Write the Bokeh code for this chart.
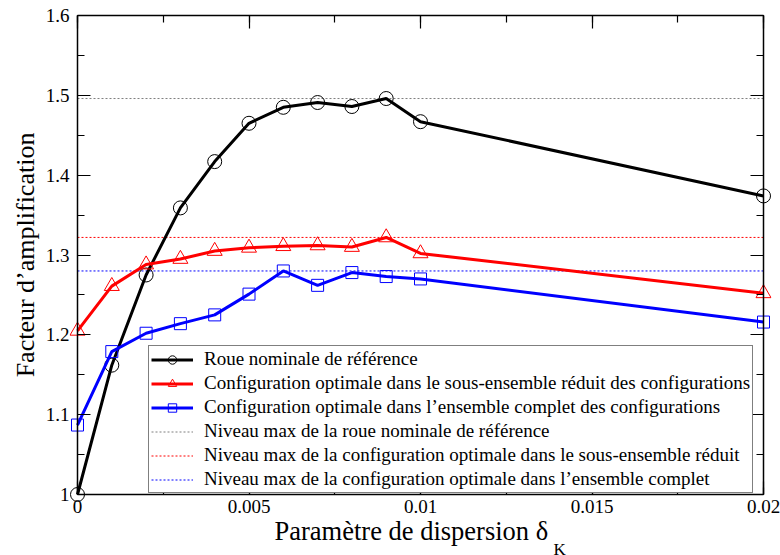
from bokeh.plotting import figure
from bokeh.models import (Range1d, LinearAxis, FixedTicker, Legend, LegendItem, Title)
from bokeh.embed import file_html
from bokeh.resources import INLINE

# ---- data ----
delta_k = [0.0, 0.001, 0.002, 0.003, 0.004, 0.005, 0.006, 0.007, 0.008, 0.009, 0.010, 0.020]
roue_nominale = [1.000, 1.162, 1.275, 1.359, 1.417, 1.465, 1.485, 1.491, 1.486, 1.496, 1.467, 1.374]
config_reduit = [1.205, 1.261, 1.288, 1.295, 1.305, 1.309, 1.311, 1.312, 1.310, 1.322, 1.302, 1.252]
config_complet = [1.087, 1.179, 1.202, 1.214, 1.225, 1.251, 1.280, 1.262, 1.278, 1.273, 1.270, 1.216]

x_ticks = [0.0, 0.005, 0.01, 0.015, 0.02]
x_tick_labels = ["0", "0.005", "0.01", "0.015", "0.02"]
x_minor = [0.0025, 0.0075, 0.0125, 0.0175]
y_ticks = [1.0, 1.1, 1.2, 1.3, 1.4, 1.5, 1.6]
y_tick_labels = ["1", "1.1", "1.2", "1.3", "1.4", "1.5", "1.6"]
y_minor = [1.05, 1.15, 1.25, 1.35, 1.45, 1.55]

legend_labels = [
    "Roue nominale de référence",
    "Configuration optimale dans le sous-ensemble réduit des configurations",
    "Configuration optimale dans l’ensemble complet des configurations",
    "Niveau max de la roue nominale de référence",
    "Niveau max de la configuration optimale dans le sous-ensemble réduit",
    "Niveau max de la configuration optimale dans l’ensemble complet",
]
x_title = "Paramètre de dispersion δ"
x_title_sub = "K"
y_title = "Facteur d’amplification"

FONT = "Liberation Serif"

# axes box (686 x 479 px) plus an 8 px margin inside the frame so edge markers are not clipped
X0, X1 = x_ticks[0], x_ticks[-1]
Y0, Y1 = y_ticks[0], y_ticks[-1]
BOX_W, BOX_H, PAD = 686, 479, 8
pad_x = (X1 - X0) * PAD / BOX_W
pad_y = (Y1 - Y0) * PAD / BOX_H

p = figure(frame_width=BOX_W + 2 * PAD, frame_height=BOX_H + 2 * PAD,
           output_backend="svg", toolbar_location=None,
           x_range=Range1d(X0 - pad_x, X1 + pad_x), y_range=Range1d(Y0 - pad_y, Y1 + pad_y),
           x_axis_location=None, y_axis_location=None,
           min_border_left=69, min_border_right=9, min_border_top=7, min_border_bottom=53)
p.grid.visible = False
p.outline_line_color = None
p.background_fill_color = "white"
p.border_fill_color = "white"

xt = FixedTicker(ticks=x_ticks, minor_ticks=x_minor + x_ticks)
yt = FixedTicker(ticks=y_ticks, minor_ticks=y_minor + y_ticks)


def box_axis(ticker, ticks, loc, bounds, side):
    """Axis line + inward ticks drawn at the edge of the axes box (no labels)."""
    ax = LinearAxis(ticker=ticker, major_label_overrides={t: "" for t in ticks},
                    fixed_location=loc, bounds=bounds)
    ax.axis_line_color = "black"
    ax.axis_line_width = 1.5
    ax.major_tick_in = 13
    ax.major_tick_out = 0
    ax.minor_tick_in = 7
    ax.minor_tick_out = 0
    ax.major_tick_line_color = "black"
    ax.minor_tick_line_color = "black"
    ax.major_tick_line_width = 1.2
    ax.minor_tick_line_width = 1.2
    ax.major_label_text_font_size = "1px"
    ax.major_label_standoff = 0
    p.add_layout(ax, side)


box_axis(xt, x_ticks, Y0, (X0, X1), "below")
box_axis(xt, x_ticks, Y1, (X0, X1), "above")
box_axis(yt, y_ticks, X0, (Y0, Y1), "left")
box_axis(yt, y_ticks, X1, (Y0, Y1), "right")


def label_axis(ticker, labels, side, standoff):
    """Side axis carrying only the tick labels (and title)."""
    ax = LinearAxis(ticker=ticker, major_label_overrides=labels)
    ax.axis_line_color = None
    ax.major_tick_line_color = None
    ax.minor_tick_line_color = None
    ax.major_tick_in = 0
    ax.major_tick_out = 0
    ax.minor_tick_in = 0
    ax.minor_tick_out = 0
    ax.major_label_text_font = FONT
    ax.major_label_text_font_size = "19px"
    ax.major_label_text_color = "black"
    ax.major_label_standoff = standoff
    p.add_layout(ax, side)
    return ax


label_axis(xt, dict(zip(x_ticks, x_tick_labels)), "below", -3)
lax = label_axis(yt, dict(zip(y_ticks, y_tick_labels)), "left", 0)
lax.axis_label = y_title
lax.axis_label_text_font = FONT
lax.axis_label_text_font_size = "26px"
lax.axis_label_text_font_style = "normal"
lax.axis_label_text_color = "black"
lax.axis_label_standoff = 3

# ---- max level lines ----
x_span = [X0, X1]
levels = [max(roue_nominale), max(config_reduit), max(config_complet)]
level_colors = ["#7f7f7f", "#ff0000", "#0000ff"]
level_renderers = []
for lvl, c in zip(levels, level_colors):
    r = p.line(x_span, [lvl, lvl], line_color=c, line_width=1, line_dash="2 2")
    level_renderers.append(r)

# ---- series ----
series = [(roue_nominale, "black", "circle", 14),
          (config_reduit, "#ff0000", "triangle", 15),
          (config_complet, "#0000ff", "square", 12)]
series_renderers = []
for ys, c, m, s in series:
    ln = p.line(delta_k, ys, line_color=c, line_width=3)
    sc = p.scatter(delta_k, ys, marker=m, size=s, line_color=c, line_width=1,
                   fill_color="white", fill_alpha=0)
    series_renderers.append([ln, sc])

items = [LegendItem(label=legend_labels[i], renderers=series_renderers[i]) for i in range(3)]
items += [LegendItem(label=legend_labels[3 + i], renderers=[level_renderers[i]]) for i in range(3)]

legend = Legend(items=items, location=(79, 9))
legend.label_text_font = FONT
legend.label_text_font_size = "19px"
legend.label_text_color = "black"
legend.glyph_width = 42
legend.glyph_height = 21
legend.label_height = 21
legend.label_standoff = 11
legend.spacing = 2
legend.padding = 2
legend.margin = 0
legend.border_line_color = "black"
legend.border_line_width = 1.5
legend.background_fill_color = "white"
legend.background_fill_alpha = 1
p.add_layout(legend, "center")

# ---- x axis title with subscript ----
t_main = Title(text=x_title, align="left", offset=205, standoff=-4,
               text_font=FONT, text_font_size="26.5px", text_font_style="normal",
               text_color="black")
p.add_layout(t_main, "below")
t_sub = Title(text=x_title_sub, align="left", offset=484, standoff=-12,
              text_font=FONT, text_font_size="17px", text_font_style="normal",
              text_color="black")
p.add_layout(t_sub, "below")

open("out.html", "w").write(file_html(p, INLINE))
